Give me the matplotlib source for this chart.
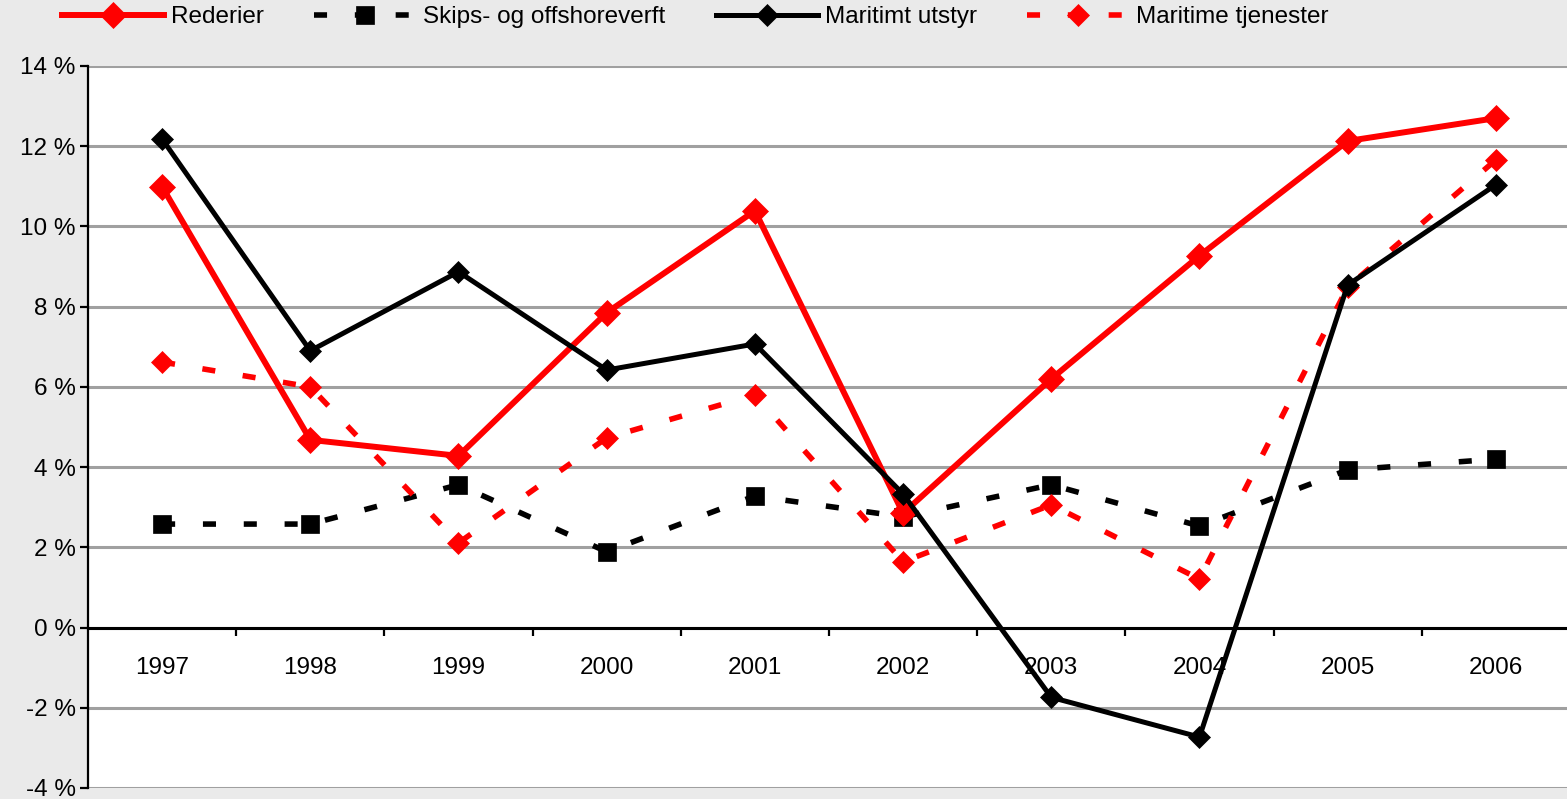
import matplotlib
matplotlib.use("Agg")
import matplotlib.pyplot as plt
from matplotlib.ticker import FuncFormatter

plt.rcParams['font.family'] = ['Liberation Sans', 'DejaVu Sans']
fs = 17.5

years = ['1997', '1998', '1999', '2000', '2001', '2002', '2003', '2004', '2005', '2006']
rederier = [10.99, 4.68, 4.28, 7.85, 10.39, 2.85, 6.2, 9.27, 12.13, 12.7]
skips = [2.58, 2.58, 3.56, 1.89, 3.28, 2.76, 3.56, 2.53, 3.93, 4.2]
utstyr = [12.18, 6.9, 8.87, 6.42, 7.07, 3.33, -1.74, -2.73, 8.54, 11.04]
tjenester = [6.62, 6.0, 2.11, 4.73, 5.8, 1.64, 3.06, 1.21, 8.49, 11.66]
labels = ['Rederier', 'Skips- og offshoreverft', 'Maritimt utstyr', 'Maritime tjenester']
yticks = [-4, -2, 0, 2, 4, 6, 8, 10, 12, 14]

W, H = 1567, 799
fig = plt.figure(figsize=(W / 100, H / 100), dpi=100)
bg = '#eaeaea'
fig.patch.set_facecolor(bg)
ax = fig.add_axes([88 / W, 1 - 788 / H, 1 - 88 / W, (788 - 66) / H])
ax.set_facecolor('white')

x = list(range(len(years)))
l1, = ax.plot(x, rederier, color='#ff0000', lw=4.3, marker='D', ms=13.5, mew=0.5, zorder=5)
l2, = ax.plot(x, skips, color='black', lw=4.0, dashes=(2.35, 5.0), marker='s', ms=13, mew=0.5, zorder=4)
l3, = ax.plot(x, utstyr, color='black', lw=3.6, marker='D', ms=11, mew=0.5, zorder=5)
l4, = ax.plot(x, tjenester, color='#ff0000', lw=4.0, dashes=(2.35, 5.0), marker='D', ms=11.5, mew=0.5, zorder=4)

ax.set_ylim(-4, 14)
ax.set_xlim(-0.5, 9.48)
ax.set_yticks(yticks)
ax.yaxis.set_major_formatter(FuncFormatter(lambda v, p: f"{int(round(v))} %"))
ax.grid(axis='y', color='#a0a0a0', lw=2.2, zorder=0)
ax.set_axisbelow(True)

for s in ['top', 'right']:
    ax.spines[s].set_visible(False)
ax.spines['left'].set_linewidth(1.6)
ax.spines['bottom'].set_position(('data', 0))
ax.spines['bottom'].set_linewidth(2.2)
ax.spines['bottom'].set_zorder(3)

ax.set_xticks(x)
ax.set_xticklabels(years)
ax.set_xticks([i + 0.5 for i in range(9)], minor=True)
ax.tick_params(axis='x', which='major', length=0, pad=21, labelsize=fs)
ax.tick_params(axis='x', which='minor', length=6, width=1.6, direction='out')
ax.tick_params(axis='y', length=6, width=1.6, direction='out', labelsize=fs, pad=3)

leg = fig.legend([l1, l2, l3, l4], labels, loc='center left', bbox_to_anchor=(62 / W, 1 - 17 / H),
                 ncol=4, frameon=False, fontsize=fs, handlelength=4.2,
                 handletextpad=0.3, columnspacing=2.05, borderpad=0, borderaxespad=0)

fig.savefig('out.png', dpi=100, facecolor=bg)
